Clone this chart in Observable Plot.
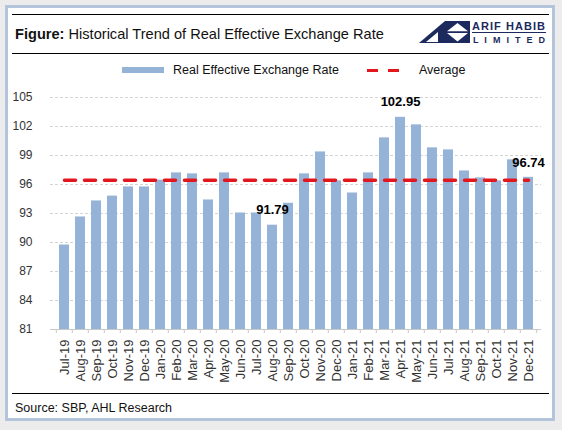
<!DOCTYPE html>
<html>
<head>
<meta charset="utf-8">
<script src="https://cdn.jsdelivr.net/npm/d3@7"></script>
<script src="https://cdn.jsdelivr.net/npm/@observablehq/plot@0.6"></script>
<style>
  html, body { margin: 0; padding: 0; width: 562px; height: 430px; overflow: hidden; background: #ececec; }
  body { position: relative; font-family: "Liberation Sans", Arial, sans-serif; color: #111; }
  .abs { position: absolute; }
  .hline { position: absolute; left: 12px; width: 537px; height: 1px; background: #000; }
</style>
</head>
<body>
<div class="abs" style="left:5px;top:5px;width:550px;height:416px;box-sizing:border-box;border:3px solid #b4c4da;background:#fff;"></div>
<div class="hline" style="top:14px;"></div>
<div id="title" class="abs" style="left:15px;top:25px;font-size:14.6px;line-height:18px;white-space:nowrap;"></div>
<svg class="abs" style="left:418px;top:19px;" width="132" height="26" viewBox="0 0 132 26">
  <g fill="#1c2a5e">
    <path d="M1,24 L27,2 L27,24 Z"/>
    <path d="M27,2 L52,2 L52,24 L27,24 Z"/>
  </g>
  <path d="M8,23 L20,13 L20,23 Z" fill="#fff"/>
  <path d="M39.5,4 L50,12.3 L29,12.3 Z" fill="#fff"/>
  <path d="M29,14 L50,14 L39.5,22.5 Z" fill="#fff"/>
  <text id="lg1" x="54" y="11" font-family="Liberation Sans, Arial, sans-serif" font-weight="bold" font-size="11" fill="#1c2a5e"></text>
  <rect x="54" y="13" width="74" height="1" fill="#1c2a5e"/>
  <text id="lg2" x="55" y="24" font-family="Liberation Sans, Arial, sans-serif" font-weight="bold" font-size="9" fill="#1c2a5e"></text>
</svg>
<div class="hline" style="top:53px;"></div>
<div id="legend"></div>
<div id="chart" class="abs" style="left:0;top:80px;"></div>
<div class="hline" style="top:393px;"></div>
<div id="source" class="abs" style="left:15px;top:400px;font-size:12.5px;line-height:16px;white-space:nowrap;"></div>
<script>
// ---- data ----
const months = ["Jul-19","Aug-19","Sep-19","Oct-19","Nov-19","Dec-19","Jan-20","Feb-20","Mar-20","Apr-20","May-20","Jun-20","Jul-20","Aug-20","Sep-20","Oct-20","Nov-20","Dec-20","Jan-21","Feb-21","Mar-21","Apr-21","May-21","Jun-21","Jul-21","Aug-21","Sep-21","Oct-21","Nov-21","Dec-21"];
const reerValues = [89.74,92.64,94.3,94.8,95.75,95.75,96.45,97.2,97.1,94.4,97.2,93.05,93.05,91.79,94.06,97.1,99.37,96.37,95.12,97.2,100.82,102.95,102.17,99.79,99.58,97.4,96.68,96.37,98.55,96.74];
const averageValue = 96.45;
const labeledMonths = ["Aug-20","Apr-21","Dec-21"];
const yTicks = [81,84,87,90,93,96,99,102,105];
const titleBold = "Figure:";
const titleText = " Historical Trend of Real Effective Exchange Rate";
const seriesName = "Real Effective Exchange Rate";
const averageName = "Average";
const sourceText = "Source: SBP, AHL Research";
const logoTop = "ARIF HABIB";
const logoBottom = "L I M I T E D";

// ---- colors ----
const barColor = "#95b3d7";
const avgColor = "#e3161e";

// ---- text ----
document.getElementById("title").innerHTML = `<b>${titleBold}</b>${titleText}`;
document.getElementById("source").textContent = sourceText;
document.getElementById("lg1").textContent = logoTop;
document.getElementById("lg1").setAttribute("textLength", "73");
document.getElementById("lg2").textContent = logoBottom;
document.getElementById("lg2").setAttribute("textLength", "72");

// legend
const legend = document.getElementById("legend");
legend.innerHTML = `
  <div class="abs" style="left:122px;top:67px;width:42px;height:6px;background:${barColor}"></div>
  <div class="abs" style="left:173px;top:62px;font-size:12.5px;line-height:16px;white-space:nowrap;">${seriesName}</div>
  <div class="abs" style="left:367px;top:69px;width:11px;height:3px;background:${avgColor}"></div>
  <div class="abs" style="left:388px;top:69px;width:11px;height:3px;background:${avgColor}"></div>
  <div class="abs" style="left:419px;top:62px;font-size:12.5px;line-height:16px;white-space:nowrap;">${averageName}</div>
`;

// ---- chart ----
const data = months.map((m, i) => ({month: m, value: reerValues[i]}));
const labels = data.filter(d => labeledMonths.includes(d.month));
const W = 562, H = 310, ML = 50, MR = 21, MT = 17, MB = 61;
const step = (W - ML - MR) / months.length;

const chart = Plot.plot({
  width: W, height: H,
  marginTop: MT, marginBottom: MB, marginLeft: ML, marginRight: MR,
  style: {fontFamily: "Liberation Sans, Arial, sans-serif", fontSize: "12px", color: "#333", background: "transparent", overflow: "visible"},
  x: {domain: months, paddingInner: 0.4, paddingOuter: 0.2, label: null},
  y: {domain: [81, 105], label: null},
  marks: [
    Plot.gridY(yTicks.filter(t => t > 81), {stroke: "#d4d4d4", strokeOpacity: 1, strokeDasharray: "3,2"}),
    Plot.axisY({ticks: yTicks, tickSize: 0, tickPadding: 18, fontSize: 12, fill: "#333"}),
    Plot.barY(data, {x: "month", y1: 81, y2: "value", fill: barColor}),
    Plot.ruleY([81], {stroke: "#c8c8c8"}),
    Plot.axisX({tickSize: 0, tickPadding: 10, tickRotate: -90, fontSize: 13, fill: "#333"}),
    Plot.axisX({tickSize: 4, tickFormat: () => "", dx: -step / 2, stroke: "#c8c8c8"}),
    Plot.axisX({ticks: [months[months.length - 1]], tickSize: 4, tickFormat: () => "", dx: step / 2, stroke: "#c8c8c8"}),
    Plot.lineY(data, {x: "month", y: () => averageValue, stroke: avgColor, strokeWidth: 3.5, strokeDasharray: "11,9"}),
    Plot.text(labels, {x: "month", y: "value", text: d => d.value.toFixed(2), dy: -15, fontWeight: "bold", fontSize: 13, fill: "#000"})
  ]
});
document.getElementById("chart").appendChild(chart);
</script>
</body>
</html>
